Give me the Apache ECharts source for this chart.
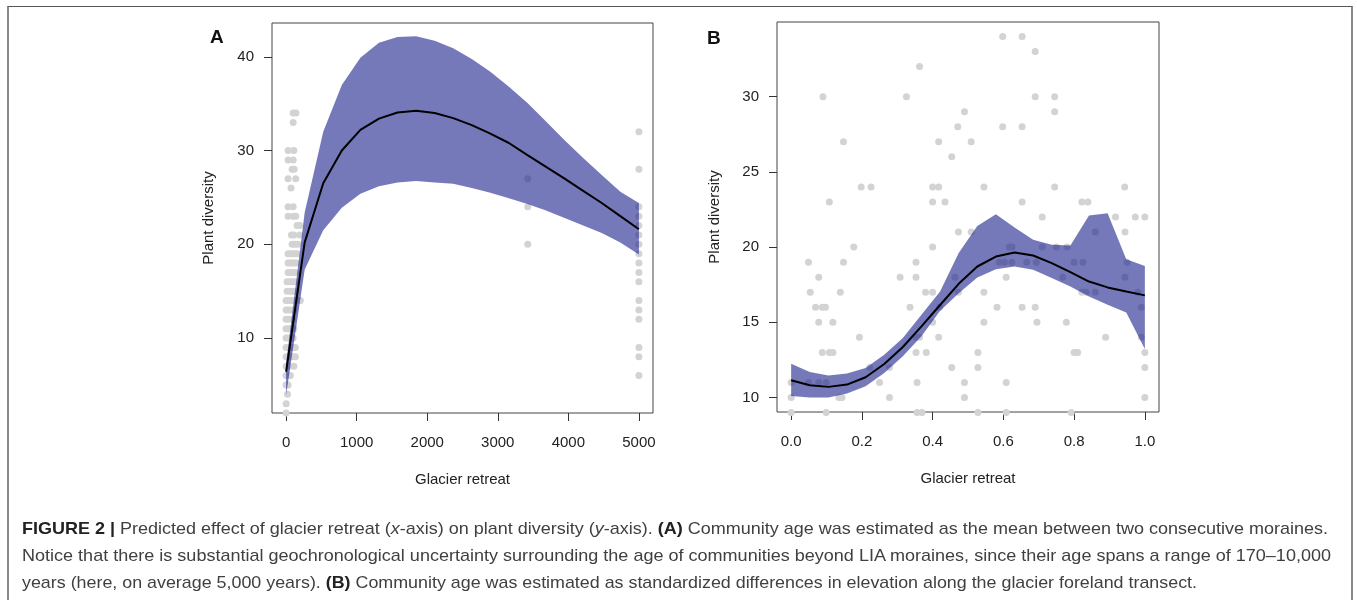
<!DOCTYPE html>
<html>
<head>
<meta charset="utf-8">
<script src="https://cdn.jsdelivr.net/npm/echarts@6/dist/echarts.min.js"></script>
<style>
  html, body { margin: 0; padding: 0; background: #fff; }
  #wrap { position: relative; width: 1357px; height: 600px; overflow: hidden; }
  #chart { position: absolute; left: 0; top: 0; width: 1357px; height: 600px; }
  #frame { position: absolute; left: 7px; top: 6px; width: 1346px; height: 620px;
           border-top: 1px solid #555; border-left: 2px solid #8a8a8a; border-right: 2px solid #8a8a8a; box-sizing: border-box; pointer-events: none; }
  #caption { position: absolute; left: 22px; top: 514.6px; font-family: "Liberation Sans", Arial, sans-serif;
             font-size: 17px; line-height: 27px; color: #404040; }
  #caption .ln { white-space: nowrap; transform-origin: 0 0; }
  #caption b { color: #222; }
</style>
</head>
<body>
<div id="wrap">
  <div id="chart"></div>
  <div id="frame"></div>
  <div id="caption">
    <div class="ln" data-w="1306"><b>FIGURE 2 |</b> Predicted effect of glacier retreat (<i>x</i>-axis) on plant diversity (<i>y</i>-axis). <b>(A)</b> Community age was estimated as the mean between two consecutive moraines.</div>
    <div class="ln" data-w="1309">Notice that there is substantial geochronological uncertainty surrounding the age of communities beyond LIA moraines, since their age spans a range of 170–10,000</div>
    <div class="ln" data-w="1175">years (here, on average 5,000 years). <b>(B)</b> Community age was estimated as standardized differences in elevation along the glacier foreland transect.</div>
  </div>
</div>
<script>
// ---------- Panel A data ----------
const aX     = [0, 263.2, 526.3, 789.5, 1052.6, 1315.8, 1578.9, 1842.1, 2105.3, 2368.4, 2631.6, 2894.7, 3157.9, 3421.1, 3684.2, 3947.4, 4210.5, 4473.7, 4736.8, 5000];
const aMean  = [6.4, 20.2, 26.5, 30.0, 32.2, 33.4, 34.05, 34.25, 34.0, 33.45, 32.7, 31.8, 30.8, 29.5, 28.25, 27.0, 25.7, 24.4, 23.0, 21.6];
const aUpper = [7.3, 23.4, 32.0, 37.0, 39.9, 41.5, 42.1, 42.2, 41.7, 40.9, 39.75, 38.4, 36.8, 35.06, 33.1, 31.1, 29.2, 27.4, 25.6, 24.4];
const aLower = [3.9, 17.3, 21.5, 23.9, 25.4, 26.2, 26.6, 26.75, 26.6, 26.45, 26.0, 25.5, 24.9, 24.3, 23.6, 22.8, 22.0, 21.2, 20.2, 18.9];
const aPoints = [
  [100,34],[140,34],[100,33],[28,30],[110,30],[28,29],[100,29],[85,28],[115,28],[28,27],[137,27],[70,26],
  [28,24],[100,24],[28,23],[100,23],[137,23],[155,22],[193,22],[75,21],[110,21],[193,21],
  [85,20],[122,20],[170,20],[28,19],[60,19],[100,19],[122,19],[155,19],
  [28,18],[60,18],[95,18],[122,18],[146,18],[28,17],[60,17],[95,17],[130,17],
  [14,16],[51,16],[95,16],[130,16],[14,15],[51,15],[95,15],[130,15],
  [0,14],[37,14],[85,14],[122,14],[193,14],[202,14],[0,13],[37,13],[70,13],[110,13],
  [0,12],[37,12],[85,12],[0,11],[37,11],[70,11],[110,11],[0,10],[28,10],[60,10],[100,10],
  [0,9],[37,9],[85,9],[130,9],[0,8],[37,8],[85,8],[130,8],[0,7],[37,7],[110,7],
  [0,6],[60,6],[0,5],[28,5],[20,4],[0,3],[0,2],
  [3425,27],[3425,24],[3425,20],
  [5000,32],[5000,28],[5000,24],[5000,23],[5000,22],[5000,21],[5000,20],[5000,19],[5000,18],[5000,17],[5000,16],
  [5000,14],[5000,13],[5000,12],[5000,9],[5000,8],[5000,6]
];
const aXTicks = [0, 1000, 2000, 3000, 4000, 5000];
const aYTicks = [10, 20, 30, 40];

// ---------- Panel B data ----------
const bX     = [0, 0.0526, 0.1053, 0.1579, 0.2105, 0.2632, 0.3158, 0.3684, 0.4211, 0.4737, 0.5263, 0.5789, 0.6316, 0.6842, 0.7368, 0.7895, 0.8421, 0.8947, 0.9474, 1.0];
const bMean  = [11.15, 10.82, 10.71, 10.86, 11.35, 12.23, 13.36, 14.73, 16.15, 17.56, 18.71, 19.37, 19.64, 19.44, 18.93, 18.33, 17.71, 17.32, 17.05, 16.79];
const bUpper = [12.25, 11.7, 11.46, 11.6, 11.97, 12.85, 13.96, 15.5, 17.05, 19.6, 21.4, 22.18, 21.3, 20.48, 20.15, 20.1, 22.1, 22.25, 19.2, 18.75];
const bLower = [10.1, 10.0, 10.0, 10.27, 10.75, 11.63, 12.74, 14.07, 15.77, 16.94, 17.98, 18.53, 18.71, 18.49, 17.94, 17.38, 16.72, 16.17, 15.66, 13.23];
const bPoints = [
  [0.598,34],[0.653,34],[0.69,33],[0.363,32],
  [0.09,30],[0.326,30],[0.69,30],[0.745,30],[0.49,29],[0.745,29],
  [0.471,28],[0.598,28],[0.653,28],[0.148,27],[0.417,27],[0.509,27],[0.454,26],
  [0.198,24],[0.226,24],[0.4,24],[0.417,24],[0.545,24],[0.745,24],[0.943,24],
  [0.108,23],[0.4,23],[0.435,23],[0.653,23],[0.822,23],[0.839,23],
  [0.71,22],[0.917,22],[0.973,22],[1.0,22],
  [0.473,21],[0.509,21],[0.86,21],[0.944,21],
  [0.177,20],[0.4,20],[0.617,20],[0.624,20],[0.71,20],[0.75,20],[0.78,20],
  [0.049,19],[0.148,19],[0.353,19],[0.589,19],[0.603,19],[0.624,19],[0.666,19],[0.693,19],[0.80,19],[0.825,19],[0.95,19],
  [0.078,18],[0.308,18],[0.353,18],[0.463,18],[0.608,18],[0.768,18],[0.944,18],
  [0.054,17],[0.139,17],[0.38,17],[0.4,17],[0.473,17],[0.545,17],[0.822,17],[0.834,17],[0.86,17],[0.98,17],
  [0.069,16],[0.088,16],[0.097,16],[0.336,16],[0.42,16],[0.582,16],[0.653,16],[0.69,16],[0.99,16],
  [0.078,15],[0.118,15],[0.4,15],[0.545,15],[0.695,15],[0.778,15],
  [0.193,14],[0.353,14],[0.363,14],[0.417,14],[0.889,14],[0.99,14],
  [0.088,13],[0.108,13],[0.118,13],[0.353,13],[0.382,13],[0.528,13],[0.80,13],[0.81,13],[1.0,13],
  [0.222,12],[0.278,12],[0.454,12],[0.528,12],[1.0,12],
  [0.0,11],[0.049,11],[0.078,11],[0.099,11],[0.25,11],[0.356,11],[0.49,11],[0.608,11],
  [0.0,10],[0.135,10],[0.144,10],[0.278,10],[0.49,10],[1.0,10],
  [0.0,9],[0.099,9],[0.356,9],[0.37,9],[0.528,9],[0.608,9],[0.792,9]
];
const bXTicks = [0, 0.2, 0.4, 0.6, 0.8, 1.0];
const bYTicks = [10, 15, 20, 25, 30];

// ---------- styling ----------
const FONT = '"Liberation Sans", Arial, Helvetica, sans-serif';
const BAND = 'rgb(25,32,138)';
const BAND_ALPHA = 0.6;
const DOT = '#d3d3d3';

function xAxisCfg(grid, min, max, ticks, fmt) {
  return {
    type: 'value', gridIndex: grid, min: min, max: max,
    name: 'Glacier retreat', nameLocation: 'middle', nameGap: 59,
    nameTextStyle: { fontSize: 15, color: '#222', fontFamily: FONT },
    axisLine: { show: false, onZero: false },
    splitLine: { show: false },
    axisTick: { show: true, length: 8, inside: false, customValues: ticks, lineStyle: { color: '#333', width: 1 } },
    axisLabel: { customValues: ticks, margin: 22, fontSize: 15, color: '#222', fontFamily: FONT, formatter: fmt }
  };
}
function yAxisCfg(grid, min, max, ticks, gap) {
  return {
    type: 'value', gridIndex: grid, min: min, max: max,
    name: 'Plant diversity', nameLocation: 'middle', nameGap: gap, nameRotate: 90,
    nameTextStyle: { fontSize: 15, color: '#222', fontFamily: FONT },
    axisLine: { show: false, onZero: false },
    splitLine: { show: false },
    axisTick: { show: true, length: 8, inside: false, customValues: ticks, lineStyle: { color: '#333', width: 1 } },
    axisLabel: { customValues: ticks, margin: 18, fontSize: 15, color: '#222', fontFamily: FONT }
  };
}
function bandSeries(idx, xs, lo, hi) {
  return {
    type: 'custom', xAxisIndex: idx, yAxisIndex: idx, z: 5, silent: true,
    data: [[xs[0], lo[0]]],
    renderItem: function (params, api) {
      const pts = [];
      for (let i = 0; i < xs.length; i++) pts.push(api.coord([xs[i], hi[i]]));
      for (let i = xs.length - 1; i >= 0; i--) pts.push(api.coord([xs[i], lo[i]]));
      return { type: 'polygon', shape: { points: pts }, style: { fill: BAND, opacity: BAND_ALPHA } };
    }
  };
}
function meanSeries(idx, xs, ys) {
  return {
    type: 'line', xAxisIndex: idx, yAxisIndex: idx, z: 6, silent: true,
    data: xs.map((x, i) => [x, ys[i]]), symbol: 'none', smooth: false,
    lineStyle: { color: '#000', width: 2 }
  };
}
function dotSeries(idx, pts) {
  return {
    type: 'scatter', xAxisIndex: idx, yAxisIndex: idx, z: 1, silent: true, clip: false,
    data: pts, symbol: 'circle', symbolSize: 7,
    itemStyle: { color: DOT, opacity: 1 }
  };
}

const chart = echarts.init(document.getElementById('chart'), null, { renderer: 'canvas' });
chart.setOption({
  animation: false,
  backgroundColor: '#fff',
  grid: [
    { left: 272, top: 23, width: 381, height: 390, show: true, borderColor: '#444', borderWidth: 1, containLabel: false },
    { left: 777, top: 22, width: 382, height: 390, show: true, borderColor: '#444', borderWidth: 1, containLabel: false }
  ],
  xAxis: [
    xAxisCfg(0, -200, 5200, aXTicks, v => String(v)),
    xAxisCfg(1, -0.04, 1.04, bXTicks, v => Number(v).toFixed(1))
  ],
  yAxis: [
    yAxisCfg(0, 2.0, 43.6, aYTicks, 56),
    yAxisCfg(1, 9.04, 34.96, bYTicks, 55)
  ],
  graphic: [
    { type: 'text', left: 210, top: 28, style: { text: 'A', font: 'bold 19px ' + FONT, fill: '#111' } },
    { type: 'text', left: 707, top: 29, style: { text: 'B', font: 'bold 19px ' + FONT, fill: '#111' } }
  ],
  series: [
    dotSeries(0, aPoints), bandSeries(0, aX, aLower, aUpper), meanSeries(0, aX, aMean),
    dotSeries(1, bPoints), bandSeries(1, bX, bLower, bUpper), meanSeries(1, bX, bMean)
  ]
});

// fit caption lines to the measured widths of the reference
document.querySelectorAll('#caption .ln').forEach(function (el) {
  const target = parseFloat(el.getAttribute('data-w'));
  el.style.display = 'inline-block';
  const w = el.getBoundingClientRect().width;
  el.style.display = 'block';
  if (w > 0) el.style.transform = 'scaleX(' + (target / w) + ')';
});
</script>
</body>
</html>
